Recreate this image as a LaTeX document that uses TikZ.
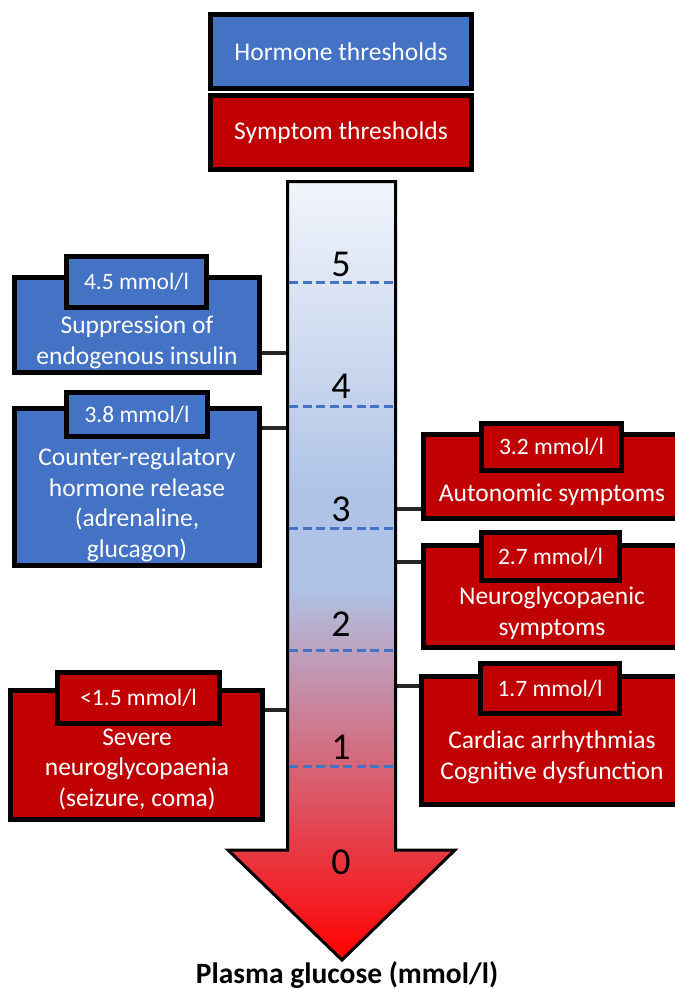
\documentclass[tikz,border=0pt]{standalone}
\usepackage{fontspec}
\setmainfont{Carlito}
\definecolor{hblue}{HTML}{4472C4}
\definecolor{sred}{HTML}{C00000}
\definecolor{linkgrey}{HTML}{262626}
\definecolor{gtop}{HTML}{F2F5FB}
\definecolor{gblue}{HTML}{AFC3E6}
\definecolor{gred}{HTML}{FF0000}
\pgfdeclareverticalshading{glucose}{100bp}{color(0bp)=(gred); color(25bp)=(gred); color(49bp)=(gblue); color(55bp)=(gblue); color(75bp)=(gtop); color(100bp)=(gtop)}
\begin{document}
\begin{tikzpicture}[x = 1pt, y = -1pt,
	box/.style = {draw = black, line width = 5pt, inner sep = 0pt, text = white},
	hbox/.style = {box, fill = hblue},
	sbox/.style = {box, fill = sred},
	title/.style = {font = \fontsize{25.5}{30.5}\selectfont},
	tabtext/.style = {font = \fontsize{23.5}{28}\selectfont},
	body/.style = {text = white, align = center, inner sep = 0pt, anchor = base, font = \fontsize{25.5}{30.5}\selectfont},
	level/.style = {inner sep = 0pt, font = \fontsize{38}{42}\selectfont},
	link/.style = {draw = linkgrey, line width = 3.5pt}]
	\useasboundingbox (0,0) rectangle (675,989);
	\node [hbox, title, minimum width = 261, minimum height = 74] (hormone) at (341,51.5) {Hormone thresholds};
	\node [sbox, title, minimum width = 261, minimum height = 74] (symptom) at (341,132.5) {Symptom thresholds};
	\coordinate (c45) at (287.5,353);
	\coordinate (c38) at (287.5,428);
	\coordinate (c15) at (287.5,710);
	\coordinate (c32) at (395.5,509);
	\coordinate (c27) at (395.5,562);
	\coordinate (c17) at (395.5,686);
	\node [hbox, minimum width = 245, minimum height = 95] (supp) at (137,325) {};
	\node [hbox, minimum width = 245, minimum height = 157] (counter) at (137,487) {};
	\node [sbox, minimum width = 252, minimum height = 129] (severe) at (136.5,755) {};
	\node [sbox, minimum width = 257.5, minimum height = 84] (auto) at (552.25,476.5) {};
	\node [sbox, minimum width = 257.5, minimum height = 102] (neuro) at (552.25,596.5) {};
	\node [sbox, minimum width = 259.5, minimum height = 128] (cardiac) at (551.25,740.5) {};
	\foreach \c/\b in {c45/supp,c38/counter,c15/severe}{
	\draw [link] (\c -| \b.east) -- (\c);
	}
	\foreach \c/\b in {c32/auto,c27/neuro,c17/cardiac}{
	\draw [link] (\c) -- (\c -| \b.west);
	}
	\shadedraw [shading = glucose, line width = 3pt] (287.5,181.5) -- (395.5,181.5) -- (395.5,850) -- (455,850) -- (342,960) -- (228,850) -- (287.5,850) -- cycle;
	\foreach \v/\y/\ly in {5/282/264,4/406/386.5,3/528/509.5,2/650/624,1/766/747.5}{
	\draw [hblue, line width = 3pt, dash pattern = on 9pt off 4.5pt] (289,\y) -- (394,\y);
	\node [level] (level\v) at (341,\ly) {\v};
	}
	\node [level] (level0) at (341,862.5) {0};
	\node [hbox, tabtext, minimum width = 140, minimum height = 51] (supptab) at (136.5,282) {4.5 mmol/l};
	\node [hbox, tabtext, minimum width = 141, minimum height = 44] (countertab) at (137,414.5) {3.8 mmol/l};
	\node [sbox, tabtext, minimum width = 162, minimum height = 51] (severetab) at (138.5,698) {<1.5 mmol/l};
	\node [sbox, tabtext, minimum width = 140, minimum height = 47] (autotab) at (551.5,447) {3.2 mmol/l};
	\node [sbox, tabtext, minimum width = 138, minimum height = 48] (neurotab) at (550.5,556.5) {2.7 mmol/l};
	\node [sbox, tabtext, minimum width = 139, minimum height = 50] (cardiactab) at (550,688.5) {1.7 mmol/l};
	\node [body] (supptext) at (137,364) {Suppression of\\endogenous insulin};
	\node [body] (countertext) at (137,557) {Counter-regulatory\\hormone release\\(adrenaline,\\glucagon)};
	\node [body] (severetext) at (137,806) {Severe\\neuroglycopaenia\\(seizure, coma)};
	\node [body] (autotext) at (552,501) {Autonomic symptoms};
	\node [body] (neurotext) at (552,635) {Neuroglycopaenic\\symptoms};
	\node [body] (cardiactext) at (552,779) {Cardiac arrhythmias\\Cognitive dysfunction};
	\node [anchor = base, inner sep = 0pt, font = \bfseries\fontsize{29.5}{34}\selectfont] (axis) at (347,983) {Plasma glucose (mmol/l)};
\end{tikzpicture}
\end{document}
